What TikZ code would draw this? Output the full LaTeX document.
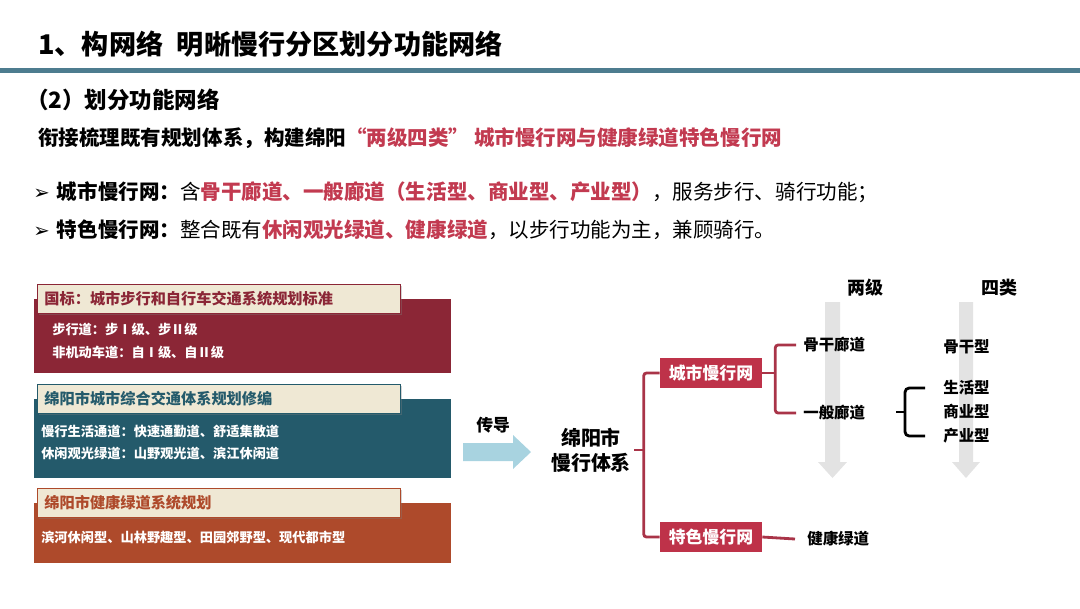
\documentclass[tikz,border=0pt]{standalone}
\usepackage{fontspec}
\setmainfont{Noto Sans CJK SC}
\newfontfamily\sym{DejaVu Sans}
\usetikzlibrary{positioning,shadows}
\definecolor{titleline}{HTML}{4D7C8F}
\definecolor{hot}{HTML}{C23A50}
\definecolor{gbred}{HTML}{8B2636}
\definecolor{myteal}{HTML}{245A6B}
\definecolor{rust}{HTML}{AE4A2B}
\definecolor{tab}{HTML}{EFE8D4}
\definecolor{flow}{HTML}{A8D3E0}
\definecolor{brkred}{HTML}{A93448}
\definecolor{netred}{HTML}{BE3249}
\definecolor{fade}{HTML}{E3E3E3}

\begin{document}
\begin{tikzpicture}[x=0.025cm, y=-0.025cm,
      hd/.style={inner sep=0pt, anchor=west, font=\fontsize{14.6}{17}\selectfont\bfseries},
      panel/.style={fill=#1, minimum width=10.425cm, anchor=north west, inner sep=0pt},
      tabbox/.style={draw=#1, line width=0.7pt, fill=tab, text=#1, anchor=north west,
                     text width=8.725cm, inner xsep=0.175cm, inner ysep=0pt, minimum height=0.725cm,
                     align=left, font=\fontsize{10.8}{13}\selectfont\bfseries,
                     drop shadow={shadow xshift=0.8pt, shadow yshift=-0.8pt, opacity=0.35}},
      entry/.style={text=white, inner sep=0pt, anchor=west, font=\fontsize{9.4}{11}\selectfont\bfseries},
      netbox/.style={fill=netred, text=white, minimum width=2.55cm, minimum height=0.75cm,
                     inner sep=0pt, font=\fontsize{12}{14}\selectfont\bfseries},
      lab/.style={inner sep=0pt, anchor=west, font=\fontsize{11}{13}\selectfont\bfseries},
      branch/.style={draw=brkred, line width=2pt, rounded corners=2pt},
      brace/.style={draw=black, line width=2pt, rounded corners=3pt}]
    \useasboundingbox (0,0) rectangle (1080,608);
    % heading
    \node[hd, font=\fontsize{19.3}{23}\selectfont\bfseries] (title) at (38,44) {1、构网络\hspace{0.5em}明晰慢行分区划分功能网络};
    \fill[titleline] (0,68) rectangle (1080,73);
    \node[hd, font=\fontsize{16}{19}\selectfont\bfseries] (part) at (26,100) {（2）划分功能网络};
    \node[hd] (lead) at (38,138) {衔接梳理既有规划体系，构建绵阳\textcolor{hot}{“两级四类” 城市慢行网与健康绿道特色慢行网}};
    \node[hd] (pt1) at (33,192) {{\sym\fontsize{14}{16}\selectfont ➢}\hspace{0.35em}城市慢行网：{\mdseries 含}\textcolor{hot}{骨干廊道、一般廊道（生活型、商业型、产业型）}{\mdseries ，服务步行、骑行功能；}};
    \node[hd] (pt2) at (33,230) {{\sym\fontsize{14}{16}\selectfont ➢}\hspace{0.35em}特色慢行网：{\mdseries 整合既有}\textcolor{hot}{休闲观光绿道、健康绿道}{\mdseries ，以步行功能为主，兼顾骑行。}};
    % source plans
    \node[panel=gbred, minimum height=1.85cm] (gb) at (34,299) {};
    \node[tabbox=gbred] (gbtab) at (37,284) {国标：城市步行和自行车交通系统规划标准};
    \node[entry] (gb1) at (52,329) {步行道：步Ⅰ级、步Ⅱ级};
    \node[entry] (gb2) at (52,352) {非机动车道：自Ⅰ级、自Ⅱ级};
    \node[panel=myteal, minimum height=1.975cm] (traffic) at (34,399) {};
    \node[tabbox=myteal] (traffictab) at (37,384) {绵阳市城市综合交通体系规划修编};
    \node[entry] (traffic1) at (41,431) {慢行生活通道：快速通勤道、舒适集散道};
    \node[entry] (traffic2) at (41,453) {休闲观光绿道：山野观光道、滨江休闲道};
    \node[panel=rust, minimum height=1.5cm] (greenway) at (34,503) {};
    \node[tabbox=rust] (greenwaytab) at (37,488) {绵阳市健康绿道系统规划};
    \node[entry] (greenway1) at (41,537) {滨河休闲型、山林野趣型、田园郊野型、现代都市型};
    % pass-on arrow
    \fill[flow] (463,443) -- (513,443) -- (513,435) -- (531,452) -- (513,469) -- (513,461) -- (463,461) -- cycle;
    \node[hd, font=\fontsize{12}{14}\selectfont\bfseries] (pass) at (476,425) {传导};
    \node[align=center, inner sep=0pt, font=\fontsize{14.2}{17.8}\selectfont\bfseries] (sys) at (591,450) {绵阳市\\慢行体系};
    % level arrows
    \fill[fade] (825,302) -- (840,302) -- (840,462) -- (847,462) -- (832.5,478) -- (818,462) -- (825,462) -- cycle;
    \fill[fade] (959,302) -- (973,302) -- (973,462) -- (980,462) -- (966,478) -- (952,462) -- (959,462) -- cycle;
    \node[lab, font=\fontsize{12.8}{15}\selectfont\bfseries] (two) at (847,288) {两级};
    \node[lab, font=\fontsize{12.8}{15}\selectfont\bfseries] (four) at (981,288) {四类};
    % networks
    \node[netbox] (urban) at (711,373) {城市慢行网};
    \node[netbox] (green) at (711,537) {特色慢行网};
    \node[lab] (trunk) at (803,345) {骨干廊道};
    \node[lab] (general) at (803,413) {一般廊道};
    \node[lab] (health) at (807,539) {健康绿道};
    \node[lab] (backbone) at (943,347) {骨干型};
    \node[lab] (life) at (943,388) {生活型};
    \node[lab] (shop) at (943,412) {商业型};
    \node[lab] (indus) at (943,436) {产业型};
    \draw[branch] (urban.west) -- ++(-16,0) coordinate (fork) -- (fork |- green.west) -- (green.west);
    \draw[branch] ([xshift=2pt]sys.east) -- (fork |- sys.east);
    \draw[branch] (urban.east) -- ++(13,0) coordinate (fork2);
    \draw[branch] ([xshift=-0.175cm]trunk.west) -- (fork2 |- trunk.west) -- (fork2 |- general.west) -- ([xshift=-0.175cm]general.west);
    \draw[branch] (green.east) -- ([xshift=-0.3cm]health.west);
    \draw[brace] ([xshift=-0.45cm]life.west) -- ++(-20,0) coordinate (hinge) -- (hinge |- indus.west) -- ([xshift=-0.45cm]indus.west);
    \draw[brace] (hinge |- shop.west) -- ++(-9,0);
  \end{tikzpicture}
\end{document}
